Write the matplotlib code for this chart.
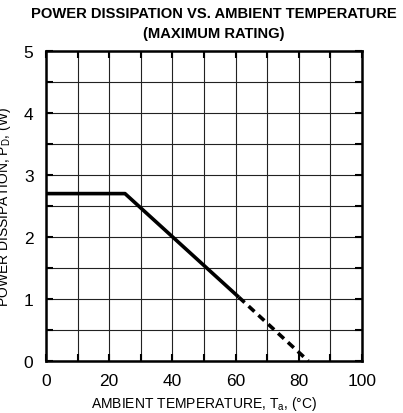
import matplotlib.pyplot as plt
import numpy as np

plt.rcParams['font.family'] = ['Liberation Sans', 'DejaVu Sans']

# derating curve
temp_solid = [0, 25, 61]
power_solid = [2.7, 2.7, 1.03]
temp_dash = [61, 83]
power_dash = [1.03, 0.0]

fig = plt.figure(figsize=(4.03, 4.14), dpi=100)
ax = fig.add_axes([46 / 403, 1 - 362 / 414, 316 / 403, 310 / 414])

ax.plot(temp_solid, power_solid, color='black', lw=2.6, solid_capstyle='butt')
ax.plot(temp_dash, power_dash, color='black', lw=2.6, linestyle=(0, (2.2, 1.5)))

ax.set_xlim(0, 100)
ax.set_ylim(0, 5)
ax.set_xticks(np.arange(0, 101, 20))
ax.set_xticks(np.arange(0, 101, 10), minor=True)
ax.set_yticks(np.arange(0, 6, 1))
ax.set_yticks(np.arange(0, 5.01, 0.5), minor=True)
ax.grid(which='both', color='#222222', lw=0.8)
ax.tick_params(which='both', direction='in', length=5, width=1.5, top=True, right=True,
               labelsize=12.5)
ax.tick_params(axis='x', pad=9)
ax.tick_params(axis='y', pad=9)
for s in ax.spines.values():
    s.set_linewidth(1.8)

ax.set_xlabel('AMBIENT TEMPERATURE, T$_\\mathregular{a}$, (°C)', fontsize=10, labelpad=4)
ax.set_ylabel('POWER DISSIPATION, P$_\\mathregular{D}$, (W)', fontsize=10)
ax.yaxis.set_label_coords(-0.105, 0.5)

fig.text(0.53, 1 - 14 / 414, 'POWER DISSIPATION VS. AMBIENT TEMPERATURE',
         fontsize=10.6, fontweight='bold', ha='center', va='center')
fig.text(0.53, 1 - 34 / 414, '(MAXIMUM RATING)',
         fontsize=10.6, fontweight='bold', ha='center', va='center')

plt.savefig('out.png', dpi=100)
